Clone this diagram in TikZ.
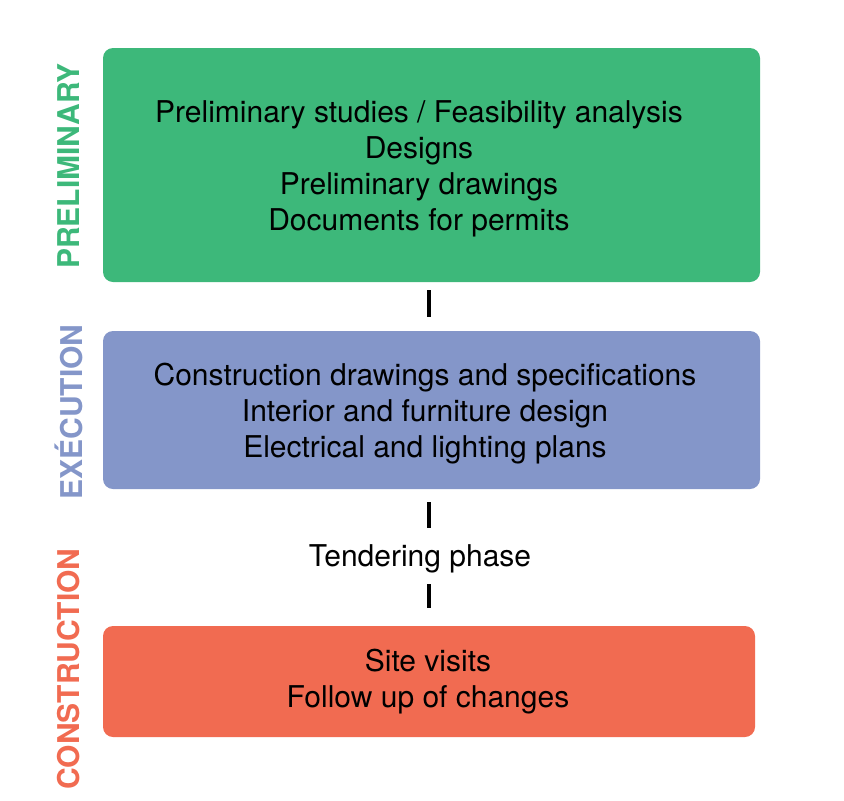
\documentclass[tikz,border=0pt]{standalone}
\usepackage{fontspec}
\setmainfont{TeX Gyre Heros}
\usepackage{tikz}
\usetikzlibrary{positioning}

\definecolor{prelim}{RGB}{61,184,122}
\definecolor{exec}{RGB}{132,150,201}
\definecolor{constr}{RGB}{241,107,81}

\tikzset{
  phase/.style={rectangle,rounded corners=10pt,inner sep=0pt,draw=none},
  steps/.style={align=center,font=\fontsize{30}{36}\selectfont},
  side/.style={rotate=90,font=\fontsize{30}{32}\selectfont\bfseries},
  bar/.style={line width=4pt}
}

\begin{document}
\begin{tikzpicture}[x=1pt,y=-1pt]
    \useasboundingbox (0,0) rectangle (844,801);
    \node[phase,fill=prelim,minimum width=657pt,minimum height=234pt] at (431.5,165) (pre) {};
    \node[phase,fill=exec,minimum width=657pt,minimum height=158pt] at (431.5,410) (exe) {};
    \node[phase,fill=constr,minimum width=652pt,minimum height=111pt] at (429,681.5) (con) {};
    \node[steps] at (419,169) (pretxt) {Preliminary studies / Feasibility analysis\\Designs\\Preliminary drawings\\Documents for permits};
    \node[steps] at (425,414) (exetxt) {Construction drawings and specifications\\Interior and furniture design\\Electrical and lighting plans};
    \node[steps] at (428,682) (contxt) {Site visits\\Follow up of changes};
    \node[steps,minimum height=40pt,inner sep=0pt] at (420,559) (tender) {Tendering phase};
    \node[side,text=prelim] at (69,166) (prelbl) {PRELIMINARY};
    \node[side,text=exec] at (69,412) (exelbl) {EXÉCUTION};
    \node[side,text=constr] at (69,669) (conlbl) {CONSTRUCTION};
    \coordinate (axis) at (429,0);
    \draw[bar,shorten <=8pt,shorten >=14pt] (pre.south -| axis) -- (exe.north -| axis);
    \draw[bar,shorten <=13pt,shorten >=11pt] (exe.south -| axis) -- (tender.north -| axis);
    \draw[bar,shorten <=5pt,shorten >=18pt] (tender.south -| axis) -- (con.north -| axis);
  \end{tikzpicture}
\end{document}
